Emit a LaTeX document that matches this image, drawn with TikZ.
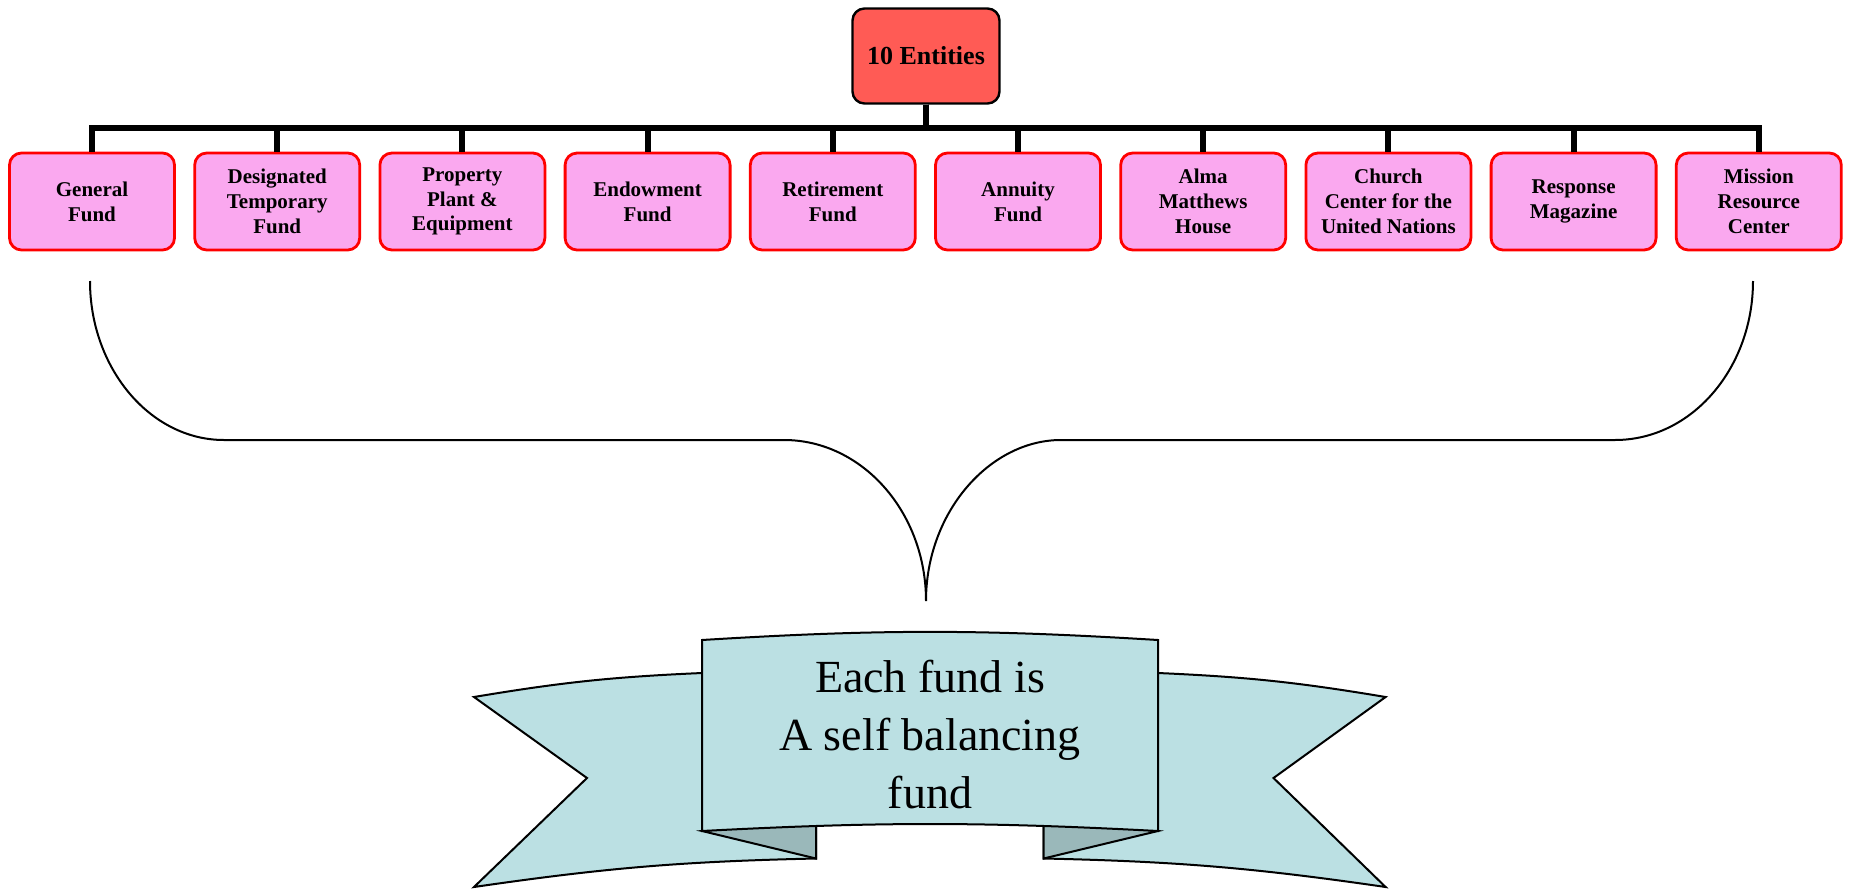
\documentclass[tikz,border=0pt]{standalone}
\usepackage{fontspec}
\setmainfont{Liberation Serif}
\definecolor{fundpink}{HTML}{FAA8EF}
\definecolor{headred}{HTML}{FF5B55}
\definecolor{ribbon}{HTML}{BBE0E3}
\definecolor{fold}{HTML}{9AB8BA}
\begin{document}
\begin{tikzpicture}[x=0.5pt, y=-0.5pt, node distance={92.6pt},
	fund/.style = {draw=red, fill=fundpink, line width=1.4pt, rounded corners=6pt, minimum width=82.5pt, minimum height=48.5pt, align=center, inner sep=1pt, font=\bfseries\fontsize{10.5}{12.4}\selectfont},
	head/.style = {draw, fill=headred, line width=1.2pt, rounded corners=6pt, minimum width=73.5pt, minimum height=47.5pt, font=\bfseries\fontsize{13}{15}\selectfont},
	bar/.style = {line width=3pt},
	brace/.style = {line width=1pt},
	band/.style = {draw, line width=1pt, fill=ribbon}]
	\useasboundingbox (0,0) rectangle (1849,889);
		\node[head] (e) at (926,56) {10 Entities};
		\node[fund] (1) at (92,201.5) {General\\Fund};
		\node[fund] (2) [right of=1] {Designated\\Temporary\\Fund};
		\node[fund] (3) [right of=2] {Property\\Plant \&\\Equipment};
		\node[fund] (4) [right of=3] {Endowment\\Fund};
		\node[fund] (5) [right of=4] {Retirement\\Fund};
		\node[fund] (6) [right of=5] {Annuity\\Fund};
		\node[fund] (7) [right of=6] {Alma\\Matthews\\House};
		\node[fund] (8) [right of=7] {Church\\Center for the\\United Nations};
		\node[fund] (9) [right of=8] {Response\\Magazine};
		\node[fund] (10) [right of=9] {Mission\\Resource\\Center};
		\draw[bar] (e.south) -- ++(0,23.5) -| (1.north);
		\draw[bar] (e.south) -- ++(0,23.5) -| (2.north);
		\draw[bar] (e.south) -- ++(0,23.5) -| (3.north);
		\draw[bar] (e.south) -- ++(0,23.5) -| (4.north);
		\draw[bar] (e.south) -- ++(0,23.5) -| (5.north);
		\draw[bar] (e.south) -- ++(0,23.5) -| (6.north);
		\draw[bar] (e.south) -- ++(0,23.5) -| (7.north);
		\draw[bar] (e.south) -- ++(0,23.5) -| (8.north);
		\draw[bar] (e.south) -- ++(0,23.5) -| (9.north);
		\draw[bar] (e.south) -- ++(0,23.5) -| (10.north);
		% the brace
		\coordinate (bl) at (90,281);
		\coordinate (br) at (1753,281);
		\coordinate (tip) at (926,601);
		\draw[brace] (bl) .. controls (90,368) and (150,440) .. (224,440) -- (784,440)
			.. controls (862,440) and (926,512) .. (tip)
			.. controls (926,512) and (990,440) .. (1061,440) -- (1615,440)
			.. controls (1692,440) and (1753,368) .. (br);
		% the banner
		\draw[band] (474,697) to[bend left=3.5] (702,673) -- (816,690) -- (816,858.5) to[bend right=3.5] (474,887) -- (587,778) -- cycle;
		\draw[band] (1385.6,697) to[bend right=3.5] (1158,673) -- (1043.6,690) -- (1043.6,858.5) to[bend left=3.5] (1385.6,887) -- (1273.5,778) -- cycle;
		\draw[band, fill=fold] (702,831) -- (816,858.5) -- (816,820) -- cycle;
		\draw[band, fill=fold] (1158,831) -- (1043.6,858.5) -- (1043.6,820) -- cycle;
		\draw[band] (702,640) to[bend left=3.5] (1158,640) -- (1158,831) to[bend right=3] (702,831) -- cycle;
		\node[align=center, font=\fontsize{23}{29}\selectfont] (msg) at (930,735) {Each fund is\\A self balancing\\fund};
	\end{tikzpicture}
\end{document}
